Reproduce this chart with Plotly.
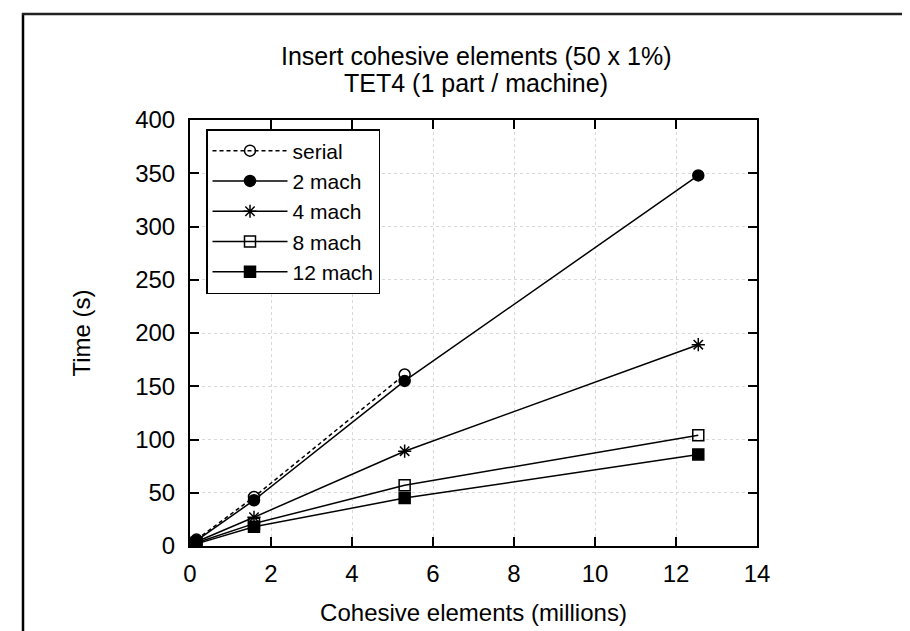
import plotly.graph_objects as go

# Data
x_points = [0.16, 1.58, 5.3, 12.55]
serial = [6, 46, 161]
mach2 = [5, 43, 155, 348]
mach4 = [4, 27, 89, 189]
mach8 = [3, 21, 57, 104]
mach12 = [2, 18, 45, 86]

series_names = ["serial", "2 mach", "4 mach", "8 mach", "12 mach"]
x_ticks = [0, 2, 4, 6, 8, 10, 12, 14]
y_ticks = [0, 50, 100, 150, 200, 250, 300, 350, 400]
title_lines = ["Insert cohesive elements (50 x 1%)", "TET4 (1 part / machine)"]

FONT = "Liberation Sans, Arial, Helvetica, sans-serif"

fig = go.Figure()

styles = [
    (serial, "circle-open", "4px,3px"),
    (mach2, "circle", "solid"),
    (mach4, "asterisk-open", "solid"),
    (mach8, "square-open", "solid"),
    (mach12, "square", "solid"),
]

for name, (ys, sym, dash) in zip(series_names, styles):
    fig.add_trace(go.Scatter(
        x=x_points[:len(ys)], y=ys, name=name, mode="lines+markers",
        line=dict(color="black", width=1.5, dash=dash),
        marker=dict(symbol=sym, size=11, color="black",
                    line=dict(color="black", width=1.5)),
    ))

axis_common = dict(
    showline=True, linecolor="black", linewidth=2, mirror="allticks",
    ticks="inside", ticklen=9, tickwidth=1.5, tickcolor="black",
    showgrid=True, gridcolor="#d8d8d8", griddash="dot", gridwidth=1,
    zeroline=False, automargin=False,
    tickfont=dict(family=FONT, size=24, color="black"),
)

fig.update_xaxes(
    range=[0, 14], tickmode="array", tickvals=x_ticks,
    ticktext=[str(v) for v in x_ticks], ticklabelstandoff=5,
    title=dict(text="Cohesive elements (millions)",
               font=dict(family=FONT, size=24, color="black"), standoff=18),
    **axis_common,
)
fig.update_yaxes(
    range=[0, 400], tickmode="array", tickvals=y_ticks,
    ticktext=[str(v) for v in y_ticks], ticklabelstandoff=8,
    title=dict(text="Time (s)",
               font=dict(family=FONT, size=24, color="black"), standoff=38),
    **axis_common,
)

# title lines
for i, line in enumerate(title_lines):
    fig.add_annotation(text=line, xref="paper", yref="paper",
                       x=(468 - 182) / 567, y=(538 - (48 + 27 * i)) / 426,
                       xanchor="center", yanchor="middle", showarrow=False,
                       font=dict(family=FONT, size=25, color="black"))

# outer frame (screenshot border)
fig.add_shape(type="line", xref="paper", yref="paper",
              x0=(15 - 182) / 567, x1=(15 - 182) / 567,
              y0=(538 - 640) / 426, y1=(538 - 5) / 426,
              line=dict(color="black", width=2.5))
fig.add_shape(type="line", xref="paper", yref="paper",
              x0=(14 - 182) / 567, x1=(910 - 182) / 567,
              y0=(538 - 6) / 426, y1=(538 - 6) / 426,
              line=dict(color="#222222", width=2.5))
fig.add_shape(type="line", xref="paper", yref="paper",
              x0=(909 - 182) / 567, x1=(909 - 182) / 567,
              y0=(538 - 640) / 426, y1=(538 - 6) / 426,
              line=dict(color="#999999", width=1))

fig.update_layout(
    width=910, height=631,
    margin=dict(l=182, r=161, t=112, b=93),
    paper_bgcolor="white", plot_bgcolor="white",
    font=dict(family=FONT, size=22, color="black"),
    legend=dict(x=(198 - 182) / 567, y=(538 - 121) / 426,
                xanchor="left", yanchor="top",
                bgcolor="white", bordercolor="black", borderwidth=1.5,
                font=dict(family=FONT, size=21, color="black"),
                itemwidth=75, tracegroupgap=0),
    showlegend=True,
)

fig.write_html("out.html")
